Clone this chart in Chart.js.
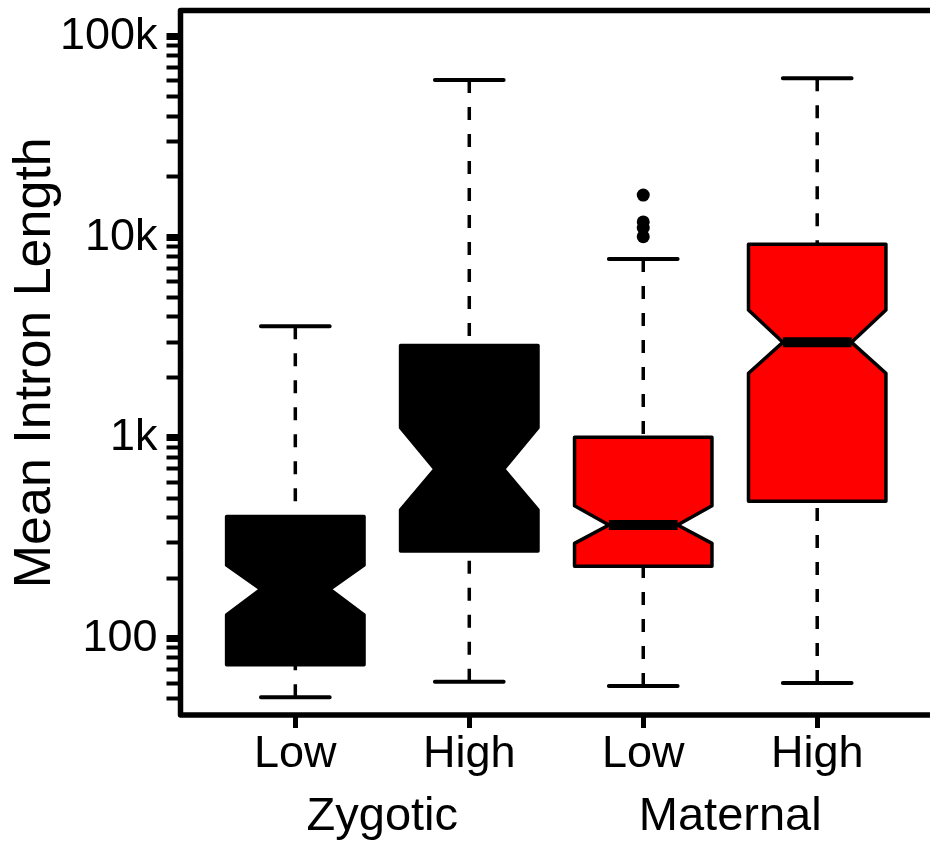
<!DOCTYPE html>
<html>
<head>
<meta charset="utf-8">
<script src="https://cdn.jsdelivr.net/npm/chart.js@4/dist/chart.umd.min.js"></script>
<style>
  html, body { margin: 0; padding: 0; background: #fff; overflow: hidden; }
</style>
</head>
<body>
<canvas id="introns" width="930" height="843"></canvas>
<script>
// box stats (log scale)
const categories = ['Low', 'High', 'Low', 'High']
const groups = ['Zygotic', 'Maternal']
const whiskerLow = [51, 61, 58, 60]
const q1 = [74, 273, 229, 483]
const notchLow = [131, 437, 298, 2096]
const median = [176, 699, 368, 2991]
const notchHigh = [232, 1123, 459, 4335]
const q3 = [405, 2880, 1007, 9218]
const whiskerHigh = [3600, 60700, 7780, 61800]
const outliers = [[], [], [16200, 11900, 11100, 10050], []]
const boxColors = ['#000000', '#000000', '#ff0000', '#ff0000']

const majorTicks = [100, 1000, 10000, 100000]
const majorLabels = ['100', '1k', '10k', '100k']
const minorTicks = [50, 60, 70, 80, 90,
  200, 300, 400, 500, 600, 700, 800, 900,
  2000, 3000, 4000, 5000, 6000, 7000, 8000, 9000,
  20000, 30000, 40000, 50000, 60000, 70000, 80000, 90000]

Chart.defaults.font.family = "'Liberation Sans', Arial, sans-serif"
Chart.defaults.color = '#000'

const boxPlugin = {
  id: 'notchedBoxes',
  beforeDatasetsDraw(chart) {
    const { ctx } = chart
    const xs = chart.scales.x
    const ys = chart.scales.y
    const y = v => ys.getPixelForValue(v)
    ctx.save()
    ctx.lineJoin = 'round'
    categories.forEach((c, i) => {
      const cx = xs.getPixelForValue(i + 1)
      const hw = xs.getPixelForValue(i + 1 + 0.395) - cx
      const nw = hw / 2

      // whiskers
      ctx.strokeStyle = '#000'
      ctx.lineWidth = 3.5
      ctx.lineCap = 'butt'
      ctx.setLineDash([13, 14])
      ctx.beginPath()
      ctx.moveTo(cx, y(whiskerHigh[i]))
      ctx.lineTo(cx, y(q3[i]))
      ctx.moveTo(cx, y(whiskerLow[i]))
      ctx.lineTo(cx, y(q1[i]))
      ctx.stroke()
      ctx.setLineDash([])

      // staples
      ctx.lineWidth = 4
      ctx.lineCap = 'round'
      ctx.beginPath()
      ctx.moveTo(cx - nw, y(whiskerHigh[i]))
      ctx.lineTo(cx + nw, y(whiskerHigh[i]))
      ctx.moveTo(cx - nw, y(whiskerLow[i]))
      ctx.lineTo(cx + nw, y(whiskerLow[i]))
      ctx.stroke()

      // notched box
      ctx.beginPath()
      ctx.moveTo(cx - hw, y(q1[i]))
      ctx.lineTo(cx - hw, y(notchLow[i]))
      ctx.lineTo(cx - nw, y(median[i]))
      ctx.lineTo(cx - hw, y(notchHigh[i]))
      ctx.lineTo(cx - hw, y(q3[i]))
      ctx.lineTo(cx + hw, y(q3[i]))
      ctx.lineTo(cx + hw, y(notchHigh[i]))
      ctx.lineTo(cx + nw, y(median[i]))
      ctx.lineTo(cx + hw, y(notchLow[i]))
      ctx.lineTo(cx + hw, y(q1[i]))
      ctx.closePath()
      ctx.fillStyle = boxColors[i]
      ctx.fill()
      ctx.lineWidth = 3.5
      ctx.stroke()

      // median
      ctx.lineWidth = 10
      ctx.lineCap = 'butt'
      ctx.beginPath()
      ctx.moveTo(cx - nw, y(median[i]))
      ctx.lineTo(cx + nw, y(median[i]))
      ctx.stroke()
    })
    ctx.restore()
  },
  afterDraw(chart) {
    const { ctx, chartArea } = chart
    const xs = chart.scales.x
    ctx.save()
    // frame (top, left, bottom)
    ctx.strokeStyle = '#000'
    ctx.lineWidth = 5.5
    ctx.lineJoin = 'round'
    ctx.beginPath()
    ctx.moveTo(chartArea.right + 10, chartArea.top)
    ctx.lineTo(chartArea.left, chartArea.top)
    ctx.lineTo(chartArea.left, chartArea.bottom)
    ctx.lineTo(chartArea.right + 10, chartArea.bottom)
    ctx.stroke()
    // group labels
    ctx.fillStyle = '#000'
    ctx.font = "47px 'Liberation Sans', Arial, sans-serif"
    ctx.textAlign = 'center'
    ctx.textBaseline = 'alphabetic'
    ctx.fillText(groups[0], xs.getPixelForValue(1.5), 830)
    ctx.fillText(groups[1], xs.getPixelForValue(3.5), 830)
    ctx.restore()
  }
}

const noEdgePadding = s => {
  s.paddingTop = 0
  s.paddingBottom = 0
  s.paddingLeft = 0
  s.paddingRight = 0
}

new Chart(
  document.getElementById('introns'),
  {
    type: 'scatter',
    data: {
      datasets: [
        {
          label: 'outliers',
          data: outliers.flatMap((vals, i) => vals.map(v => ({ x: i + 1, y: v }))),
          pointRadius: 6.5,
          pointBackgroundColor: '#000',
          pointBorderWidth: 0
        }
      ]
    },
    options: {
      responsive: false,
      animation: false,
      layout: {
        padding: { top: 10.5, left: 0, right: 0, bottom: 0 }
      },
      plugins: {
        legend: { display: false },
        tooltip: { enabled: false }
      },
      scales: {
        x: {
          type: 'linear',
          min: 0.34,
          max: 4.611,
          afterBuildTicks: s => { s.ticks = categories.map((c, i) => ({ value: i + 1 })) },
          afterFit: s => { noEdgePadding(s); s.height = 128 },
          border: { display: false },
          grid: {
            drawOnChartArea: false,
            drawTicks: true,
            tickLength: 13,
            tickWidth: 5,
            tickColor: '#000'
          },
          ticks: {
            autoSkip: false,
            maxRotation: 0,
            padding: 0,
            font: { size: 45 },
            callback: v => categories[v - 1]
          }
        },
        y: {
          type: 'logarithmic',
          min: 41.6,
          max: 134600,
          afterBuildTicks: s => {
            s.ticks = majorTicks.concat(minorTicks).sort((a, b) => a - b).map(v => ({ value: v }))
          },
          afterFit: s => { noEdgePadding(s); s.width = 180.5 },
          border: { display: false },
          grid: {
            drawOnChartArea: false,
            drawTicks: true,
            tickLength: 14,
            tickWidth: c => majorTicks.includes(c.tick.value) ? 7 : 4,
            tickColor: '#000'
          },
          ticks: {
            autoSkip: false,
            padding: 9,
            font: { size: 45 },
            callback: v => {
              const k = majorTicks.indexOf(v)
              return k >= 0 ? majorLabels[k] : ''
            }
          },
          title: {
            display: true,
            text: 'Mean Intron Length',
            font: { size: 52 },
            padding: { top: 4, bottom: 0 }
          }
        }
      }
    },
    plugins: [boxPlugin]
  }
)
</script>
</body>
</html>
